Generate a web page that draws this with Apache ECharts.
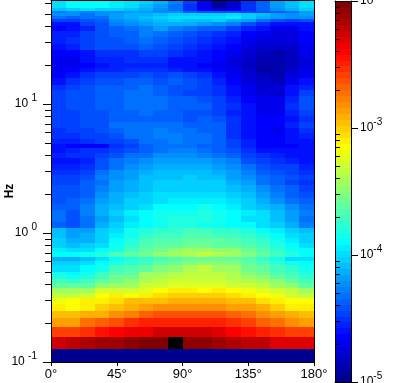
<!DOCTYPE html>
<html><head><meta charset="utf-8">
<style>html,body{margin:0;padding:0;background:#fff}#c{width:418px;height:383px}</style>
<script src="https://cdn.jsdelivr.net/npm/echarts@6/dist/echarts.min.js"></script>
</head><body><div id="c"></div>
<script>
// Angle bins (degrees)
const angleEdges=[0,10,20,30,40,50,60,70,80,90,100,110,120,130,140,150,160,170,180];
// Frequency bin edges (Hz), top to bottom
const freqEdges=[64,59.6,55.5,52.6,50.7,48.1,45.6,43.2,40.3,36.8,33.1,29.2,26.2,23.1,20.8,19.0,17.7,15.9,14.0,12.85,11.5,10.2,8.98,8.07,7.25,6.52,5.96,5.36,4.90,4.56,4.17,3.81,3.43,3.08,2.82,2.58,2.36,2.08,1.87,1.68,1.51,1.35,1.22,1.09,1.0,0.915,0.836,0.765,0.713,0.652,0.607,0.565,0.5,0.46875,0.4375,0.40625,0.375,0.34375,0.3125,0.28125,0.25,0.21875,0.1875,0.15625,0.125,0.1];
const r01=[-3.98,-3.92,-3.90,-3.92,-3.94,-3.97,-4.05,-4.15,-4.28,-4.47,-4.66,-4.92,-4.78,-4.5,-4.35,-4.2,-4.08,-4.0];
const r02=[-4.0,-3.92,-3.9,-3.92,-3.95,-3.98,-4.07,-4.17,-4.3,-4.5,-4.68,-4.93,-4.8,-4.52,-4.35,-4.2,-4.1,-4.0];
const r03=[-4.1,-4.02,-4.0,-4.02,-4.05,-4.08,-4.15,-4.25,-4.33,-4.52,-4.65,-4.8,-4.7,-4.5,-4.35,-4.22,-4.12,-4.05];
const r04=[-4.28,-4.25,-4.27,-4.25,-4.22,-4.2,-4.2,-4.22,-4.25,-4.35,-4.4,-4.4,-4.42,-4.45,-4.42,-4.35,-4.3,-4.2];
const r05=[-4.22,-4.25,-4.3,-4.25,-4.2,-4.15,-4.12,-4.08,-4.03,-4.03,-4.02,-4.02,-4.0,-4.02,-4.1,-4.2,-4.22,-4.2];
const r06=[-4.3,-4.35,-4.33,-4.3,-4.2,-4.12,-4.08,-4.03,-3.98,-3.98,-3.98,-3.97,-3.96,-4.03,-4.12,-4.2,-4.25,-4.25];
const r07=[-4.45,-4.45,-4.42,-4.35,-4.22,-4.2,-4.12,-4.07,-4.06,-4.08,-4.1,-4.05,-4.12,-4.2,-4.3,-4.42,-4.45,-4.42];
const r08=[-4.6,-4.58,-4.47,-4.4,-4.28,-4.25,-4.2,-4.12,-4.15,-4.15,-4.2,-4.22,-4.28,-4.42,-4.5,-4.6,-4.62,-4.6];
const r09=[-4.65,-4.6,-4.55,-4.42,-4.35,-4.32,-4.27,-4.2,-4.28,-4.32,-4.35,-4.35,-4.45,-4.55,-4.62,-4.68,-4.68,-4.62];
const r10=[-4.55,-4.55,-4.47,-4.4,-4.38,-4.35,-4.28,-4.33,-4.38,-4.42,-4.48,-4.5,-4.55,-4.65,-4.68,-4.72,-4.72,-4.65];
const r11=[-4.57,-4.53,-4.47,-4.42,-4.42,-4.36,-4.33,-4.36,-4.42,-4.46,-4.5,-4.56,-4.6,-4.68,-4.72,-4.75,-4.73,-4.65];
const r12=[-4.6,-4.55,-4.47,-4.43,-4.43,-4.4,-4.38,-4.42,-4.46,-4.52,-4.55,-4.6,-4.65,-4.72,-4.78,-4.8,-4.78,-4.68];
const r13=[-4.67,-4.63,-4.58,-4.52,-4.5,-4.5,-4.47,-4.47,-4.52,-4.57,-4.58,-4.63,-4.68,-4.78,-4.85,-4.87,-4.82,-4.7];
const r14=[-4.7,-4.68,-4.62,-4.57,-4.56,-4.52,-4.52,-4.52,-4.6,-4.62,-4.62,-4.66,-4.73,-4.8,-4.88,-4.87,-4.85,-4.72];
const r15=[-4.7,-4.7,-4.66,-4.6,-4.57,-4.57,-4.57,-4.57,-4.62,-4.62,-4.65,-4.7,-4.73,-4.82,-4.9,-4.88,-4.85,-4.72];
const r16=[-4.68,-4.66,-4.62,-4.55,-4.55,-4.52,-4.5,-4.52,-4.55,-4.6,-4.62,-4.66,-4.7,-4.8,-4.92,-4.88,-4.8,-4.7];
const r17=[-4.63,-4.6,-4.53,-4.48,-4.47,-4.45,-4.42,-4.45,-4.43,-4.47,-4.52,-4.62,-4.68,-4.78,-4.85,-4.87,-4.72,-4.68];
const r18=[-4.58,-4.53,-4.45,-4.42,-4.4,-4.38,-4.37,-4.4,-4.38,-4.42,-4.47,-4.57,-4.63,-4.72,-4.8,-4.85,-4.7,-4.62];
const r19=[-4.5,-4.48,-4.43,-4.38,-4.38,-4.35,-4.33,-4.36,-4.4,-4.4,-4.45,-4.53,-4.6,-4.7,-4.78,-4.75,-4.62,-4.55];
const r20=[-4.45,-4.43,-4.4,-4.36,-4.35,-4.33,-4.33,-4.37,-4.4,-4.45,-4.45,-4.53,-4.6,-4.7,-4.76,-4.78,-4.6,-4.48];
const r21=[-4.45,-4.42,-4.4,-4.36,-4.36,-4.3,-4.3,-4.3,-4.35,-4.38,-4.4,-4.47,-4.55,-4.65,-4.7,-4.7,-4.55,-4.42];
const r22=[-4.46,-4.42,-4.41,-4.36,-4.35,-4.32,-4.3,-4.31,-4.35,-4.38,-4.37,-4.44,-4.52,-4.62,-4.7,-4.68,-4.52,-4.42];
const r23=[-4.48,-4.45,-4.42,-4.4,-4.37,-4.35,-4.33,-4.35,-4.38,-4.4,-4.4,-4.45,-4.54,-4.62,-4.7,-4.68,-4.56,-4.48];
const r24=[-4.48,-4.45,-4.42,-4.4,-4.38,-4.38,-4.35,-4.35,-4.38,-4.4,-4.38,-4.42,-4.52,-4.6,-4.66,-4.66,-4.58,-4.52];
const r25=[-4.48,-4.45,-4.42,-4.4,-4.33,-4.32,-4.32,-4.32,-4.34,-4.36,-4.37,-4.38,-4.5,-4.6,-4.66,-4.66,-4.56,-4.48];
const r26=[-4.5,-4.47,-4.44,-4.42,-4.36,-4.32,-4.3,-4.28,-4.32,-4.34,-4.36,-4.39,-4.5,-4.58,-4.66,-4.68,-4.6,-4.52];
const r27=[-4.52,-4.52,-4.48,-4.45,-4.4,-4.34,-4.31,-4.29,-4.29,-4.3,-4.32,-4.37,-4.5,-4.58,-4.66,-4.66,-4.6,-4.55];
const r28=[-4.56,-4.56,-4.52,-4.47,-4.47,-4.4,-4.34,-4.3,-4.28,-4.3,-4.32,-4.35,-4.47,-4.57,-4.66,-4.66,-4.62,-4.58];
const r29=[-4.62,-4.65,-4.65,-4.63,-4.52,-4.45,-4.38,-4.33,-4.32,-4.34,-4.37,-4.39,-4.45,-4.55,-4.63,-4.65,-4.65,-4.62];
const r30=[-4.6,-4.56,-4.53,-4.5,-4.46,-4.4,-4.35,-4.3,-4.28,-4.28,-4.31,-4.36,-4.42,-4.52,-4.58,-4.6,-4.6,-4.6];
const r31=[-4.56,-4.53,-4.5,-4.46,-4.4,-4.34,-4.3,-4.25,-4.25,-4.25,-4.28,-4.3,-4.35,-4.45,-4.52,-4.55,-4.58,-4.58];
const r32=[-4.6,-4.58,-4.55,-4.43,-4.34,-4.28,-4.22,-4.18,-4.2,-4.2,-4.2,-4.22,-4.28,-4.4,-4.46,-4.5,-4.54,-4.6];
const r33=[-4.56,-4.54,-4.5,-4.4,-4.3,-4.22,-4.17,-4.15,-4.15,-4.15,-4.15,-4.18,-4.22,-4.32,-4.42,-4.46,-4.48,-4.55];
const r34=[-4.52,-4.5,-4.44,-4.32,-4.25,-4.2,-4.13,-4.1,-4.1,-4.1,-4.1,-4.12,-4.18,-4.28,-4.38,-4.42,-4.45,-4.5];
const r35=[-4.48,-4.48,-4.42,-4.28,-4.22,-4.17,-4.1,-4.07,-4.07,-4.05,-4.07,-4.1,-4.17,-4.25,-4.32,-4.38,-4.42,-4.45];
const r36=[-4.48,-4.46,-4.38,-4.3,-4.2,-4.15,-4.1,-4.05,-4.03,-4.03,-4.02,-4.05,-4.12,-4.2,-4.3,-4.38,-4.45,-4.5];
const r37=[-4.42,-4.42,-4.35,-4.28,-4.17,-4.12,-4.07,-4.02,-4.03,-4.03,-4.03,-4.02,-4.08,-4.15,-4.25,-4.32,-4.38,-4.45];
const r38=[-4.42,-4.42,-4.35,-4.25,-4.15,-4.1,-4.05,-3.98,-4.0,-3.98,-3.97,-4.0,-4.05,-4.1,-4.2,-4.28,-4.35,-4.4];
const r39=[-4.4,-4.38,-4.3,-4.2,-4.12,-4.05,-4.03,-3.97,-3.93,-3.93,-3.95,-3.95,-3.98,-4.05,-4.15,-4.22,-4.3,-4.35];
const r40=[-4.38,-4.38,-4.28,-4.15,-4.08,-4.03,-3.97,-3.92,-3.9,-3.9,-3.87,-3.88,-3.95,-4.02,-4.08,-4.15,-4.22,-4.3];
const r41=[-4.3,-4.4,-4.28,-4.12,-4.03,-3.95,-3.9,-3.87,-3.85,-3.83,-3.82,-3.85,-3.9,-3.95,-4.0,-4.08,-4.18,-4.27];
const r42=[-4.33,-4.4,-4.33,-4.18,-4.08,-3.97,-3.92,-3.87,-3.82,-3.82,-3.82,-3.85,-3.88,-3.97,-4.0,-4.08,-4.18,-4.3];
const r43=[-4.35,-4.4,-4.3,-4.15,-4.05,-3.95,-3.88,-3.85,-3.82,-3.82,-3.85,-3.87,-3.9,-3.92,-3.98,-4.05,-4.15,-4.28];
const r44=[-4.1,-4.2,-4.18,-4.03,-4.0,-3.87,-3.82,-3.78,-3.75,-3.73,-3.73,-3.75,-3.78,-3.82,-3.88,-3.95,-4.03,-4.1];
const r45=[-4.08,-4.17,-4.15,-4.02,-3.95,-3.83,-3.75,-3.72,-3.7,-3.68,-3.68,-3.7,-3.72,-3.77,-3.82,-3.9,-4.0,-4.05];
const r46=[-4.05,-4.15,-4.13,-4.03,-3.9,-3.82,-3.73,-3.67,-3.65,-3.62,-3.62,-3.63,-3.68,-3.72,-3.75,-3.87,-3.95,-4.02];
const r47=[-4.03,-4.08,-4.05,-3.97,-3.87,-3.78,-3.68,-3.63,-3.6,-3.57,-3.56,-3.6,-3.62,-3.67,-3.72,-3.82,-3.9,-3.98];
const r48=[-3.95,-4.0,-3.97,-3.9,-3.83,-3.7,-3.62,-3.55,-3.48,-3.45,-3.43,-3.47,-3.5,-3.57,-3.67,-3.78,-3.85,-3.92];
const r49=[-3.9,-3.92,-3.87,-3.82,-3.68,-3.6,-3.55,-3.47,-3.42,-3.38,-3.35,-3.38,-3.42,-3.53,-3.62,-3.72,-3.82,-3.9];
const r50=[-4.12,-4.15,-4.1,-3.98,-3.88,-3.82,-3.75,-3.7,-3.66,-3.62,-3.6,-3.6,-3.62,-3.68,-3.75,-3.85,-3.97,-4.0];
const r51=[-4.03,-4.05,-4.0,-3.92,-3.82,-3.75,-3.7,-3.62,-3.58,-3.52,-3.48,-3.5,-3.52,-3.6,-3.67,-3.75,-3.85,-3.92];
const r52=[-3.97,-3.97,-3.92,-3.87,-3.72,-3.65,-3.6,-3.52,-3.48,-3.4,-3.33,-3.42,-3.45,-3.55,-3.6,-3.7,-3.78,-3.85];
const r53=[-3.85,-3.9,-3.85,-3.72,-3.65,-3.62,-3.42,-3.42,-3.4,-3.35,-3.35,-3.35,-3.4,-3.52,-3.58,-3.65,-3.72,-3.8];
const r54=[-3.8,-3.85,-3.82,-3.7,-3.58,-3.55,-3.42,-3.4,-3.35,-3.33,-3.32,-3.33,-3.37,-3.42,-3.5,-3.6,-3.68,-3.75];
const r55=[-3.72,-3.75,-3.72,-3.6,-3.55,-3.5,-3.38,-3.33,-3.3,-3.3,-3.28,-3.3,-3.33,-3.38,-3.45,-3.5,-3.6,-3.7];
const r56=[-3.62,-3.62,-3.6,-3.5,-3.42,-3.42,-3.3,-3.27,-3.25,-3.23,-3.23,-3.25,-3.27,-3.3,-3.35,-3.43,-3.5,-3.6];
const r57=[-3.42,-3.45,-3.42,-3.3,-3.28,-3.27,-3.22,-3.14,-3.12,-3.12,-3.13,-3.12,-3.13,-3.18,-3.22,-3.3,-3.35,-3.42];
const r58=[-3.33,-3.33,-3.3,-3.17,-3.12,-3.13,-3.08,-3.05,-3.03,-3.03,-3.03,-3.03,-3.05,-3.12,-3.13,-3.2,-3.27,-3.32];
const r59=[-3.2,-3.17,-3.12,-3.08,-3.05,-2.98,-2.98,-2.95,-2.92,-2.92,-2.92,-2.93,-2.97,-2.97,-3.05,-3.1,-3.13,-3.17];
const r60=[-3.08,-3.15,-3.1,-3.0,-2.97,-2.9,-2.85,-2.82,-2.8,-2.8,-2.8,-2.8,-2.85,-2.88,-2.93,-3.0,-3.08,-3.12];
const r61=[-2.97,-2.97,-2.92,-2.92,-2.83,-2.78,-2.7,-2.65,-2.63,-2.65,-2.65,-2.65,-2.7,-2.75,-2.82,-2.88,-2.93,-2.98];
const r62=[-2.85,-2.85,-2.72,-2.68,-2.62,-2.55,-2.5,-2.5,-2.5,-2.5,-2.5,-2.5,-2.55,-2.6,-2.7,-2.75,-2.8,-2.85];
const r63=[-2.6,-2.6,-2.53,-2.45,-2.41,-2.35,-2.33,-2.28,-2.25,-2.25,-2.25,-2.3,-2.38,-2.43,-2.47,-2.55,-2.58,-2.6];
const r64=[-2.28,-2.22,-2.18,-2.13,-2.1,-2.05,-2.03,-2.03,-1.9,-2.05,-2.05,-2.1,-2.15,-2.2,-2.23,-2.3,-2.32,-2.32];
const r65=[-5,-5,-5,-5,-5,-5,-5,-5,-5,-5,-5,-5,-5,-5,-5,-5,-5,-5];
const psdRows=[r01,r02,r03,r04,r05,r06,r07,r08,r09,r10,r11,r12,r13,r14,r15,r16,r17,r18,r19,r20,r21,r22,r23,r24,r25,r26,r27,r28,r29,r30,r31,r32,r33,r34,r35,r36,r37,r38,r39,r40,r41,r42,r43,r44,r45,r46,r47,r48,r49,r50,r51,r52,r53,r54,r55,r56,r57,r58,r59,r60,r61,r62,r63,r64,r65];

const freqMajor=[0.1,1,10];
const freqMinor=[0.2,0.3,0.4,0.5,0.6,0.7,0.8,0.9,2,3,4,5,6,7,8,9,20,30,40,50,60];
const cbarMajor=[1e-5,1e-4,1e-3,1e-2];
const cbarMinor=[2e-5,3e-5,4e-5,5e-5,6e-5,7e-5,8e-5,9e-5,2e-4,3e-4,4e-4,5e-4,6e-4,7e-4,8e-4,9e-4,2e-3,3e-3,4e-3,5e-3,6e-3,7e-3,8e-3,9e-3];
const LMIN=-5,LMAX=-2,LEVELS=64;

// 64-step jet colour map
function jet(i){
  const t=(i+1)/LEVELS*4;
  const c=v=>Math.round(255*Math.max(0,Math.min(1,v)));
  const r=Math.min(t-1.5,4.5-t),g=Math.min(t-0.5,3.5-t),b=Math.min(t+0.5,2.5-t);
  return 'rgb('+c(r)+','+c(g)+','+c(b)+')';
}
function colorOf(v){
  const l=Math.log10(v);
  if(l>LMAX) return '#000';
  const i=Math.max(0,Math.min(LEVELS-1,Math.floor((l-LMIN)/(LMAX-LMIN)*LEVELS)));
  return jet(i);
}
const cells=[];
psdRows.forEach((row,r)=>row.forEach((lg,c)=>{
  cells.push([angleEdges[c],angleEdges[c+1],freqEdges[r+1],freqEdges[r],Math.pow(10,lg)]);
}));
const cbarCells=[];
for(let i=0;i<LEVELS;i++){
  cbarCells.push([0,1,Math.pow(10,LMIN+(LMAX-LMIN)*i/LEVELS),Math.pow(10,LMIN+(LMAX-LMIN)*(i+1)/LEVELS),Math.pow(10,LMIN+(LMAX-LMIN)*(i+.5)/LEVELS)]);
}
function renderCell(params,api){
  const a=api.coord([api.value(0),api.value(3)]);
  const b=api.coord([api.value(1),api.value(2)]);
  const x=Math.round(a[0]),y=Math.round(a[1]),x2=Math.round(b[0]),y2=Math.round(b[1]);
  return {type:'rect',shape:{x:x,y:y,width:x2-x,height:y2-y},style:{fill:colorOf(api.value(4))}};
}
const FONT='"Liberation Sans",Arial,sans-serif';
const expRich={b:{fontSize:12,fontFamily:FONT,color:'#000',lineHeight:22,verticalAlign:'middle'},s:{fontSize:10,fontFamily:FONT,color:'#000',lineHeight:11,verticalAlign:'top'}};
function expLabel(v,gap){
  const e=Math.round(Math.log10(v));
  return '{b|10'+(gap?' ':'')+'}{s|'+e+'}';
}
const lineOnly={show:true,onZero:false,lineStyle:{color:'#000',width:1}};
const off={show:false};
const chart=echarts.init(document.getElementById('c'),null,{renderer:'canvas'});
chart.setOption({
  animation:false,
  backgroundColor:'#fff',
  grid:[
    {left:51,top:0,width:263,height:362,containLabel:false,outerBoundsMode:'none'},
    {left:335,top:1,width:16,height:381,containLabel:false,outerBoundsMode:'none'}
  ],
  xAxis:[
    {gridIndex:0,type:'value',min:0,max:180,interval:45,position:'bottom',z:10,
     axisLine:lineOnly,axisTick:{show:true,length:4,lineStyle:{color:'#000'}},splitLine:off,
     axisLabel:{fontFamily:FONT,fontSize:13,color:'#000',margin:6,hideOverlap:false,formatter:v=>v+'°'}},
    {gridIndex:0,type:'value',min:0,max:180,position:'top',z:10,axisLine:lineOnly,axisTick:off,axisLabel:off,splitLine:off},
    {gridIndex:1,type:'value',min:0,max:1,position:'bottom',z:10,axisLine:lineOnly,axisTick:off,axisLabel:off,splitLine:off},
    {gridIndex:1,type:'value',min:0,max:1,position:'top',z:10,axisLine:lineOnly,axisTick:off,axisLabel:off,splitLine:off}
  ],
  yAxis:[
    {gridIndex:0,type:'log',logBase:10,min:0.1,max:64,position:'left',z:10,
     name:'Hz',nameLocation:'middle',nameGap:35,nameRotate:90,nameMoveOverlap:false,
     nameTextStyle:{fontFamily:FONT,fontSize:12,fontWeight:'bold',color:'#000',padding:[0,20,0,0]},
     axisLine:lineOnly,splitLine:off,minorTick:off,
     axisTick:{show:true,length:8,lineStyle:{color:'#000'},customValues:freqMajor},
     axisLabel:{margin:14,customValues:freqMajor,formatter:v=>expLabel(v,true),rich:expRich}},
    {gridIndex:0,type:'log',logBase:10,min:0.1,max:64,position:'left',z:10,
     axisLine:off,splitLine:off,axisLabel:off,minorTick:off,
     axisTick:{show:true,length:6,lineStyle:{color:'#000'},customValues:freqMinor}},
    {gridIndex:0,type:'log',logBase:10,min:0.1,max:64,position:'right',z:10,
     axisLine:lineOnly,axisTick:off,axisLabel:off,splitLine:off},
    {gridIndex:1,type:'log',logBase:10,min:1e-5,max:1e-2,position:'right',z:10,
     axisLine:lineOnly,splitLine:off,minorTick:off,
     axisTick:{show:true,length:7,lineStyle:{color:'#000'},customValues:cbarMajor},
     axisLabel:{margin:9,customValues:cbarMajor,formatter:v=>expLabel(v,false),rich:expRich}},
    {gridIndex:1,type:'log',logBase:10,min:1e-5,max:1e-2,position:'right',z:10,
     axisLine:off,splitLine:off,axisLabel:off,minorTick:off,
     axisTick:{show:true,length:5,lineStyle:{color:'#000'},customValues:cbarMinor}},
    {gridIndex:1,type:'log',logBase:10,min:1e-5,max:1e-2,position:'left',z:10,
     axisLine:lineOnly,axisTick:off,axisLabel:off,splitLine:off}
  ],
  series:[
    {type:'custom',xAxisIndex:0,yAxisIndex:0,coordinateSystem:'cartesian2d',renderItem:renderCell,data:cells,
     encode:{x:[0,1],y:[2,3]},clip:true,silent:true,z:2},
    {type:'custom',xAxisIndex:2,yAxisIndex:3,coordinateSystem:'cartesian2d',renderItem:renderCell,data:cbarCells,
     encode:{x:[0,1],y:[2,3]},clip:true,silent:true,z:2}
  ]
});
</script></body></html>
